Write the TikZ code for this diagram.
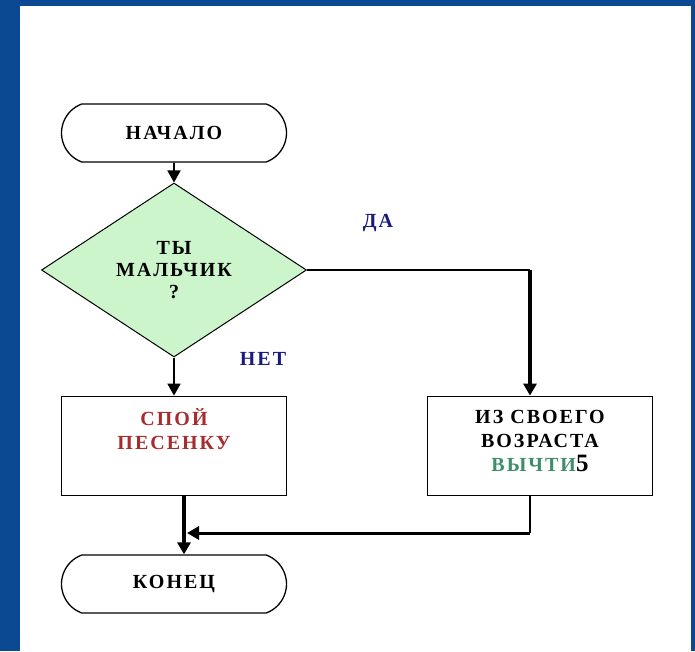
\documentclass[tikz,border=0pt]{standalone}
\usepackage{fontspec}
\setmainfont{Liberation Serif}
\newfontfamily\blockfont[LetterSpace=10]{Liberation Serif}
\usepackage{tikz}
\usetikzlibrary{arrows.meta,positioning,calc}
\usetikzlibrary{shapes.geometric,shapes.misc}
\definecolor{bgblue}{HTML}{0B4A93}
\definecolor{diamgreen}{HTML}{CCF5CC}
\definecolor{singred}{HTML}{A82B2E}
\definecolor{subgreen}{HTML}{3E8E6A}
\definecolor{labblue}{HTML}{1B1B7E}
\tikzset{>={Triangle[length=12pt,width=13pt]}}
\tikzset{
  terminal/.style={draw,line width=1.3pt,rounded rectangle,rounded rectangle arc length=140,
    minimum width=225pt,minimum height=58pt,inner sep=0pt,
    font=\blockfont\bfseries\fontsize{20}{22}\selectfont},
  decision/.style={draw,line width=1pt,diamond,fill=diamgreen,minimum width=265pt,
    minimum height=174pt,inner sep=0pt,align=center,
    font=\blockfont\bfseries\fontsize{20}{22}\selectfont},
  process/.style={draw,line width=1.8pt,rectangle,minimum width=225pt,minimum height=99pt,inner sep=0pt},
  boxtext/.style={align=center,inner sep=0pt,font=\blockfont\bfseries\fontsize{20}{24}\selectfont},
  answer/.style={text=labblue,inner sep=0pt,font=\blockfont\bfseries\fontsize{20}{22}\selectfont}
}

\begin{document}
\begin{tikzpicture}[x=1pt,y=-1pt]
  \fill[bgblue] (0,0) rectangle (695,651);
  \fill[white] (20,6) rectangle (691,652);
  \useasboundingbox (0,0) rectangle (695,651);
  %Blocks
  \node[terminal] (start) at (174,133) {НАЧАЛО};
  \node[decision] (cond) at (174,270) {ТЫ\\МАЛЬЧИК\\?};
  \node[process] (sing) at (174,446) {};
  \node[boxtext,text=singred] (singtxt) at (174,429) {СПОЙ\\ПЕСЕНКУ};
  \node[process] (sub) at (540,446) {};
  \node[boxtext] (subtxt) at (540,441) {ИЗ СВОЕГО\\ВОЗРАСТА\\{\color{subgreen}ВЫЧТИ}{\fontsize{25}{24}\selectfont 5}};
  \node[terminal] (stop) at (174,584) {КОНЕЦ};
  %Labels
  \node[answer] (yes) at (378,223) {ДА};
  \node[answer] (no) at (263,359) {НЕТ};
  %Arrows
  \coordinate (turn) at (530,270);
  \coordinate (join) at (184,533);
  \draw[->,line width=1.8pt] (start) -- (cond);
  \draw[line width=1.5pt] (cond.east) -- (turn);
  \draw[->,line width=3.2pt] (turn) -- (turn |- sub.north);
  \draw[->,line width=1.8pt] (cond.south) -- (sing.north);
  \draw[line width=2pt] (sub.south -| turn) -- (turn |- join);
  \draw[->,line width=3pt] (turn |- join) -- ([xshift=3]join);
  \draw[->,line width=3.2pt] (sing.south -| join) -- (stop.north -| join);
\end{tikzpicture}
\end{document}
